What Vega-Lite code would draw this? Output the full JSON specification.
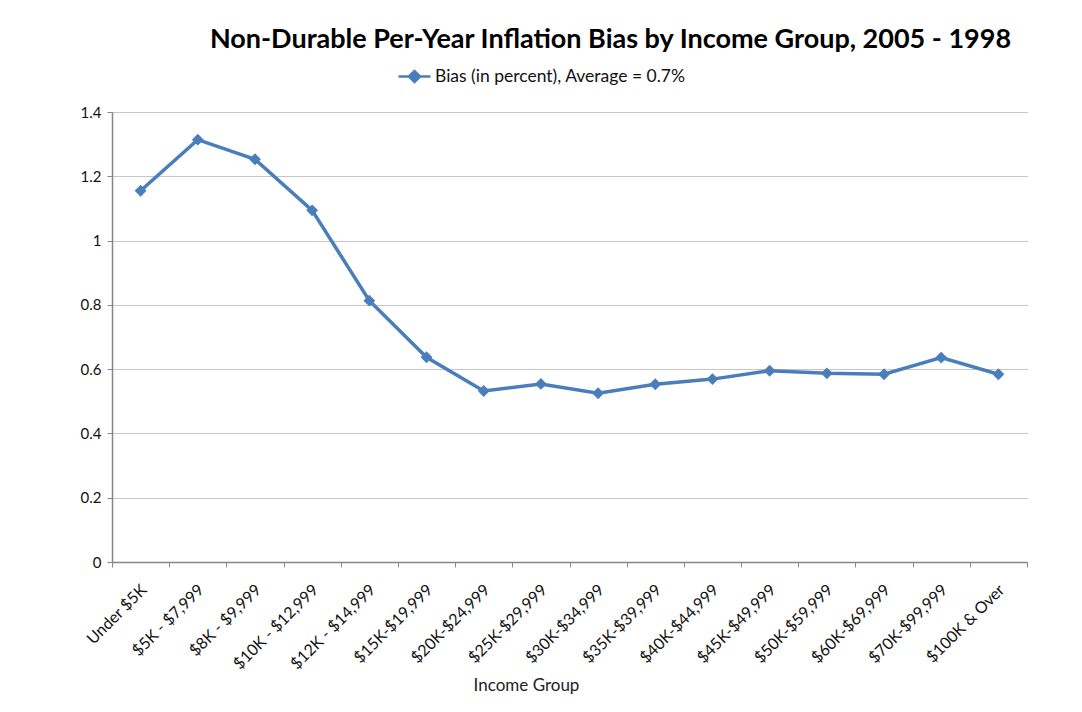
{
  "$schema": "https://vega.github.io/schema/vega-lite/v6.json",
  "width": 915,
  "height": 450,
  "autosize": {"type": "none"},
  "padding": {"left": 112, "top": 112, "right": 55, "bottom": 150},
  "background": "white",
  "config": {"font": "Lato", "view": {"stroke": null}},
  "title": {
    "text": "Non-Durable Per-Year Inflation Bias by Income Group, 2005 - 1998",
    "fontSize": 27,
    "font": "Lato",
    "fontWeight": "bold",
    "color": "black",
    "anchor": "middle",
    "frame": "group",
    "dx": 41,
    "offset": 5
  },
  "data": {
    "values": [
      {"group": "Under $5K", "bias": 1.155, "series": "Bias (in percent), Average = 0.7%"},
      {"group": "$5K - $7,999", "bias": 1.314, "series": "Bias (in percent), Average = 0.7%"},
      {"group": "$8K - $9,999", "bias": 1.253, "series": "Bias (in percent), Average = 0.7%"},
      {"group": "$10K - $12,999", "bias": 1.094, "series": "Bias (in percent), Average = 0.7%"},
      {"group": "$12K - $14,999", "bias": 0.813, "series": "Bias (in percent), Average = 0.7%"},
      {"group": "$15K-$19,999", "bias": 0.637, "series": "Bias (in percent), Average = 0.7%"},
      {"group": "$20K-$24,999", "bias": 0.532, "series": "Bias (in percent), Average = 0.7%"},
      {"group": "$25K-$29,999", "bias": 0.554, "series": "Bias (in percent), Average = 0.7%"},
      {"group": "$30K-$34,999", "bias": 0.525, "series": "Bias (in percent), Average = 0.7%"},
      {"group": "$35K-$39,999", "bias": 0.553, "series": "Bias (in percent), Average = 0.7%"},
      {"group": "$40K-$44,999", "bias": 0.569, "series": "Bias (in percent), Average = 0.7%"},
      {"group": "$45K-$49,999", "bias": 0.595, "series": "Bias (in percent), Average = 0.7%"},
      {"group": "$50K-$59,999", "bias": 0.587, "series": "Bias (in percent), Average = 0.7%"},
      {"group": "$60K-$69,999", "bias": 0.584, "series": "Bias (in percent), Average = 0.7%"},
      {"group": "$70K-$99,999", "bias": 0.636, "series": "Bias (in percent), Average = 0.7%"},
      {"group": "$100K & Over", "bias": 0.584, "series": "Bias (in percent), Average = 0.7%"}
    ]
  },
  "mark": {
    "type": "line",
    "strokeWidth": 3.5,
    "point": {"shape": "diamond", "size": 140, "filled": true}
  },
  "encoding": {
    "x": {
      "field": "group",
      "type": "nominal",
      "sort": null,
      "bandPosition": 0.5,
      "scale": {"type": "band", "paddingInner": 0, "paddingOuter": 0},
      "axis": {
        "title": "Income Group",
        "titleFontSize": 17,
        "titleFontWeight": "normal",
        "titleColor": "#222222",
        "titleX": 414,
        "titleY": 128,
        "titleAlign": "center",
        "titleBaseline": "alphabetic",
        "labelAngle": -45,
        "labelAlign": "right",
        "labelBaseline": "middle",
        "labelFontSize": 16,
        "labelColor": "#111111",
        "labelPadding": 20,
        "labelOffset": 3,
        "labelLimit": 300,
        "tickBand": "extent",
        "tickSize": 5,
        "tickColor": "#868686",
        "domainColor": "#868686",
        "domainWidth": 1.5,
        "grid": false
      }
    },
    "y": {
      "field": "bias",
      "type": "quantitative",
      "scale": {"domain": [0, 1.4], "nice": false},
      "axis": {
        "title": null,
        "values": [0, 0.2, 0.4, 0.6, 0.8, 1, 1.2, 1.4],
        "format": "~g",
        "labelFontSize": 15,
        "labelColor": "#111111",
        "labelPadding": 6,
        "tickSize": 5,
        "tickColor": "#868686",
        "domainColor": "#868686",
        "domainWidth": 1.5,
        "grid": true,
        "gridColor": "#8c8c8c",
        "gridDash": [1, 1]
      }
    },
    "color": {
      "field": "series",
      "type": "nominal",
      "scale": {"range": ["#4A7EBB"]},
      "legend": {
        "orient": "none",
        "legendX": 285,
        "legendY": -53,
        "title": null,
        "labelFontSize": 17.5,
        "labelColor": "#111111",
        "labelOffset": 3,
        "labelLimit": 400,
        "symbolType": "M-1,0H1M-0.35,0L0,-0.35L0.35,0L0,0.35Z",
        "symbolSize": 1024,
        "symbolStrokeWidth": 2.5,
        "symbolFillColor": "#4A7EBB",
        "symbolStrokeColor": "#4A7EBB"
      }
    }
  }
}
